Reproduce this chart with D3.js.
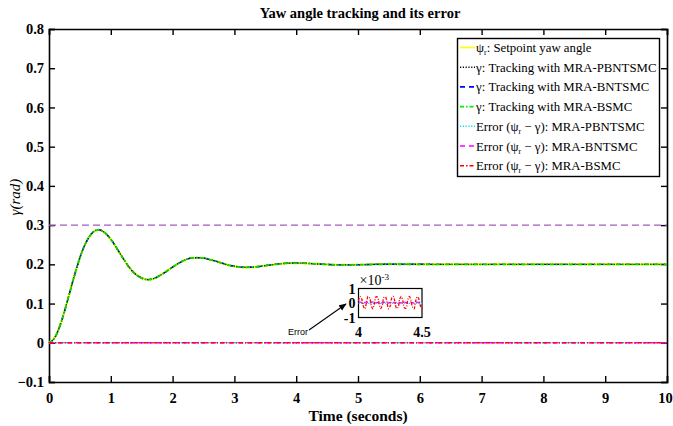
<!DOCTYPE html>
<html>
<head>
<meta charset="utf-8">
<script src="https://cdn.jsdelivr.net/npm/d3@7"></script>
<style>
  html, body { margin: 0; padding: 0; background: #fff; }
  svg { display: block; }
</style>
</head>
<body>
<svg id="chart" width="673" height="426"></svg>
<script>
// Yaw angle response (rad) sampled in time (s)
const timeSteps = [0,0.1,0.2,0.3,0.4,0.5,0.6,0.7,0.8,0.9,1.0,1.1,1.2,1.3,1.4,1.5,1.6,1.7,1.8,1.9,2.0,
  2.1,2.2,2.3,2.4,2.5,2.6,2.7,2.8,2.9,3.0,3.1,3.2,3.3,3.4,3.5,3.6,3.7,3.8,3.9,4.0,4.1,4.2,4.3,4.4,4.5,
  4.6,4.7,4.8,4.9,5.0,5.5,6.0,6.5,7.0,7.5,8.0,8.5,9.0,9.5,10.0];
const yawResponse = [0,0.015,0.054,0.108,0.165,0.217,0.256,0.280,0.288,0.281,0.264,0.240,0.215,0.192,0.175,0.165,0.161,0.164,0.172,0.182,0.193,
  0.203,0.211,0.216,0.217,0.216,0.212,0.208,0.203,0.198,0.195,0.193,0.1925,0.193,0.1945,0.1967,0.1987,0.2007,0.2022,0.2031,0.2033,0.2030,0.2023,0.2014,0.2006,0.1997,
  0.199,0.1987,0.1986,0.1987,0.199,0.2003,0.2001,0.1999,0.2,0.2,0.2,0.2,0.2,0.2,0.2];
// Tracking errors over the full run (rad)
const errorTime = [0, 10];
const errorValues = [0, 0];
// Reference line level
const referenceLevel = 0.3;

// Zoomed tracking error between 4 s and 4.5 s (×10^-3 rad)
const insetTime = d3.range(41).map(i => 4 + i * 0.0125);
const insetBSMC = [0.15,0.45,0.3,-0.2,-0.4,0.0,0.45,0.35,-0.15,-0.4,-0.05,0.42,0.4,-0.05,-0.38,-0.15,0.38,0.42,0.0,-0.4,
  -0.2,0.35,0.45,0.05,-0.38,-0.28,0.28,0.45,0.12,-0.35,-0.35,0.2,0.45,0.2,-0.28,-0.4,0.12,0.43,0.28,-0.2,-0.4];
const insetBNTSMC = [0.05,0.08,0.03,0.0,0.04,0.07,0.02,0.0,0.05,0.07,0.02,0.01,0.05,0.06,0.02,0.0,0.04,0.07,0.03,0.0,
  0.04,0.06,0.03,0.0,0.04,0.06,0.02,0.01,0.05,0.06,0.02,0.0,0.04,0.06,0.03,0.0,0.04,0.06,0.02,0.0,0.04];
const insetPBNTSMC = insetTime.map(() => -0.02);

const xTicks = [0,1,2,3,4,5,6,7,8,9,10];
const yTicks = [-0.1,0,0.1,0.2,0.3,0.4,0.5,0.6,0.7,0.8];

const legendItems = [
  {pre: "\u03C8", sub: "r", post: ": Setpoint yaw angle", color: "#ffff00", dash: null},
  {pre: "\u03B3", sub: "", post: ": Tracking with MRA-PBNTSMC", color: "#000000", dash: "1.2,1.6"},
  {pre: "\u03B3", sub: "", post: ": Tracking with MRA-BNTSMC", color: "#0000ff", dash: "5,4"},
  {pre: "\u03B3", sub: "", post: ": Tracking with MRA-BSMC", color: "#00ee00", dash: "4,2,1.5,2"},
  {pre: "Error (\u03C8", sub: "r", post: " \u2212 \u03B3): MRA-PBNTSMC", color: "#00e5e5", dash: "1.2,1.6"},
  {pre: "Error (\u03C8", sub: "r", post: " \u2212 \u03B3): MRA-BNTSMC", color: "#ff00ff", dash: "5,4"},
  {pre: "Error (\u03C8", sub: "r", post: " \u2212 \u03B3): MRA-BSMC", color: "#ff0000", dash: "4,2,1.5,2"}
];

const SERIF = "'Liberation Serif', 'Times New Roman', serif";
const svg = d3.select("#chart").style("font-family", SERIF);
const margin = {left: 49, right: 5, top: 29, bottom: 44};
const W = 673, H = 426;
const x = d3.scaleLinear().domain([0, 10]).range([margin.left, W - margin.right - 1]);
const y = d3.scaleLinear().domain([-0.1, 0.8]).range([H - margin.bottom, margin.top]);

// Title and axis labels
svg.append("text").attr("x", 360).attr("y", 18).attr("text-anchor", "middle")
  .style("font-family", SERIF).attr("font-weight", "bold").attr("font-size", 14.5)
  .text("Yaw angle tracking and its error");
svg.append("text").attr("x", 358).attr("y", 421).attr("text-anchor", "middle")
  .style("font-family", SERIF).attr("font-weight", "bold").attr("font-size", 15.5).text("Time (seconds)");
svg.append("text").attr("transform", "translate(20,197) rotate(-90)").attr("text-anchor", "middle")
  .style("font-family", SERIF).attr("font-style", "italic").attr("font-size", 15).text("\u03B3(rad)");

// Axes with inward ticks
const fmt = d => d3.format("")(+d.toFixed(1));
const axB = svg.append("g").attr("transform", `translate(0,${y(-0.1)})`)
  .call(d3.axisBottom(x).tickValues(xTicks).tickSize(-6).tickPadding(11).tickFormat(fmt));
const axL = svg.append("g").attr("transform", `translate(${x(0)},0)`)
  .call(d3.axisLeft(y).tickValues(yTicks).tickSize(-6).tickPadding(5).tickFormat(fmt));
const axT = svg.append("g").attr("transform", `translate(0,${y(0.8)})`)
  .call(d3.axisTop(x).tickValues(xTicks).tickSize(-6).tickFormat(""));
const axR = svg.append("g").attr("transform", `translate(${x(10)},0)`)
  .call(d3.axisRight(y).tickValues(yTicks).tickSize(-6).tickFormat(""));
[axB, axL, axT, axR].forEach(g => {
  g.attr("font-family", null);
  g.select(".domain").attr("stroke", "#000").attr("stroke-width", 1.6);
  g.selectAll(".tick line").attr("stroke", "#000").attr("stroke-width", 1.4);
  g.selectAll(".tick text").style("font-family", SERIF)
    .attr("font-weight", "bold").attr("font-size", 14.5).attr("fill", "#000");
});
axB.selectAll(".tick text").filter(d => d === 10).attr("dx", -2);

// Reference line
svg.append("line").attr("x1", x(0)).attr("x2", x(10))
  .attr("y1", y(referenceLevel)).attr("y2", y(referenceLevel))
  .attr("stroke", "#a35bc4").attr("stroke-width", 1.3).attr("stroke-dasharray", "7,4");

const line = d3.line().x(d => x(d[0])).y(d => y(d[1])).curve(d3.curveMonotoneX);
const respPts = timeSteps.map((t, i) => [t, yawResponse[i]]);
const errPts = errorTime.map((t, i) => [t, errorValues[i]]);

// Tracking curves (overlapping)
[["#ffff00", null, 2.2], ["#000000", "1.2,1.6", 1.4], ["#0000ff", "5,4", 1.4], ["#00dd00", "4,2,1.5,2", 1.8]]
  .forEach(([c, d, w]) => {
    svg.append("path").datum(respPts).attr("d", line).attr("fill", "none")
      .attr("stroke", c).attr("stroke-width", w).attr("stroke-dasharray", d);
  });
// Error curves
[["#00e5e5", "1.2,1.6", 1.6], ["#ff00ff", "5,4", 1.6], ["#ff0022", "4,2,1.5,2", 1.6]]
  .forEach(([c, d, w]) => {
    svg.append("path").datum(errPts).attr("d", line).attr("fill", "none")
      .attr("stroke", c).attr("stroke-width", w).attr("stroke-dasharray", d);
  });

// Legend
const lg = svg.append("g");
lg.append("rect").attr("x", 457.5).attr("y", 38.5).attr("width", 202).attr("height", 138)
  .attr("fill", "#fff").attr("stroke", "#000").attr("stroke-width", 1.4);
legendItems.forEach((it, i) => {
  const yy = 47.5 + i * 19.7;
  lg.append("line").attr("x1", 460).attr("x2", 475).attr("y1", yy).attr("y2", yy)
    .attr("stroke", it.color).attr("stroke-width", 1.6).attr("stroke-dasharray", it.dash);
  const t = lg.append("text").attr("x", 476).attr("y", yy + 4.5)
    .style("font-family", SERIF).attr("font-size", 12.8);
  t.append("tspan").text(it.pre);
  if (it.sub) t.append("tspan").attr("font-size", 8).attr("dy", 3).text(it.sub);
  t.append("tspan").attr("dy", it.sub ? -3 : 0).text(it.post);
});

// Inset: error detail between 4 s and 4.5 s
const ix = d3.scaleLinear().domain([4, 4.5]).range([358.5, 422]);
const iy = d3.scaleLinear().domain([-1, 1]).range([317.5, 288.5]);
const ig = svg.append("g");
ig.append("rect").attr("x", ix(4)).attr("y", iy(1)).attr("width", ix(4.5) - ix(4)).attr("height", iy(-1) - iy(1))
  .attr("fill", "#fff").attr("stroke", "#000").attr("stroke-width", 1.2);
const iline = d3.line().x(d => ix(d[0])).y(d => iy(d[1])).curve(d3.curveCatmullRom);
ig.append("path").datum(insetTime.map((t, i) => [t, insetPBNTSMC[i]])).attr("d", iline)
  .attr("fill", "none").attr("stroke", "#00e5e5").attr("stroke-width", 1.2).attr("stroke-dasharray", "1.2,1.2");
ig.append("path").datum(insetTime.map((t, i) => [t, insetBNTSMC[i]])).attr("d", iline)
  .attr("fill", "none").attr("stroke", "#ff00ff").attr("stroke-width", 1.3).attr("stroke-dasharray", "4,2");
ig.append("path").datum(insetTime.map((t, i) => [t, insetBSMC[i]])).attr("d", iline)
  .attr("fill", "none").attr("stroke", "#ff0000").attr("stroke-width", 1.3).attr("stroke-dasharray", "3,1.5,1,1.5");
[1, 0, -1].forEach(v => {
  ig.append("text").attr("x", ix(4) - 3).attr("y", iy(v) + 5).attr("text-anchor", "end")
    .style("font-family", SERIF).attr("font-weight", "bold").attr("font-size", 14).text(v);
});
[4, 4.5].forEach(v => {
  ig.append("text").attr("x", ix(v)).attr("y", 337).attr("text-anchor", "middle")
    .style("font-family", SERIF).attr("font-weight", "bold").attr("font-size", 14).text(v);
});
const sx = ig.append("text").attr("x", ix(4) + 1).attr("y", 285)
  .style("font-family", SERIF).attr("font-size", 14);
sx.append("tspan").text("\u00D710");
sx.append("tspan").attr("font-size", 9).attr("dy", -5).text("-3");

// Annotation arrow
svg.append("defs").append("marker").attr("id", "arrowhead").attr("viewBox", "0 0 10 10")
  .attr("refX", 9).attr("refY", 5).attr("markerWidth", 7).attr("markerHeight", 7).attr("orient", "auto")
  .append("path").attr("d", "M0,1 L10,5 L0,9 Z").attr("fill", "#000");
svg.append("line").attr("x1", 309).attr("y1", 330).attr("x2", 346).attr("y2", 304)
  .attr("stroke", "#000").attr("stroke-width", 1.1).attr("marker-end", "url(#arrowhead)");
svg.append("text").attr("x", 298).attr("y", 335).attr("text-anchor", "middle")
  .style("font-family", "'Liberation Sans', Arial, sans-serif").attr("font-size", 9).text("Error");
</script>
</body>
</html>
